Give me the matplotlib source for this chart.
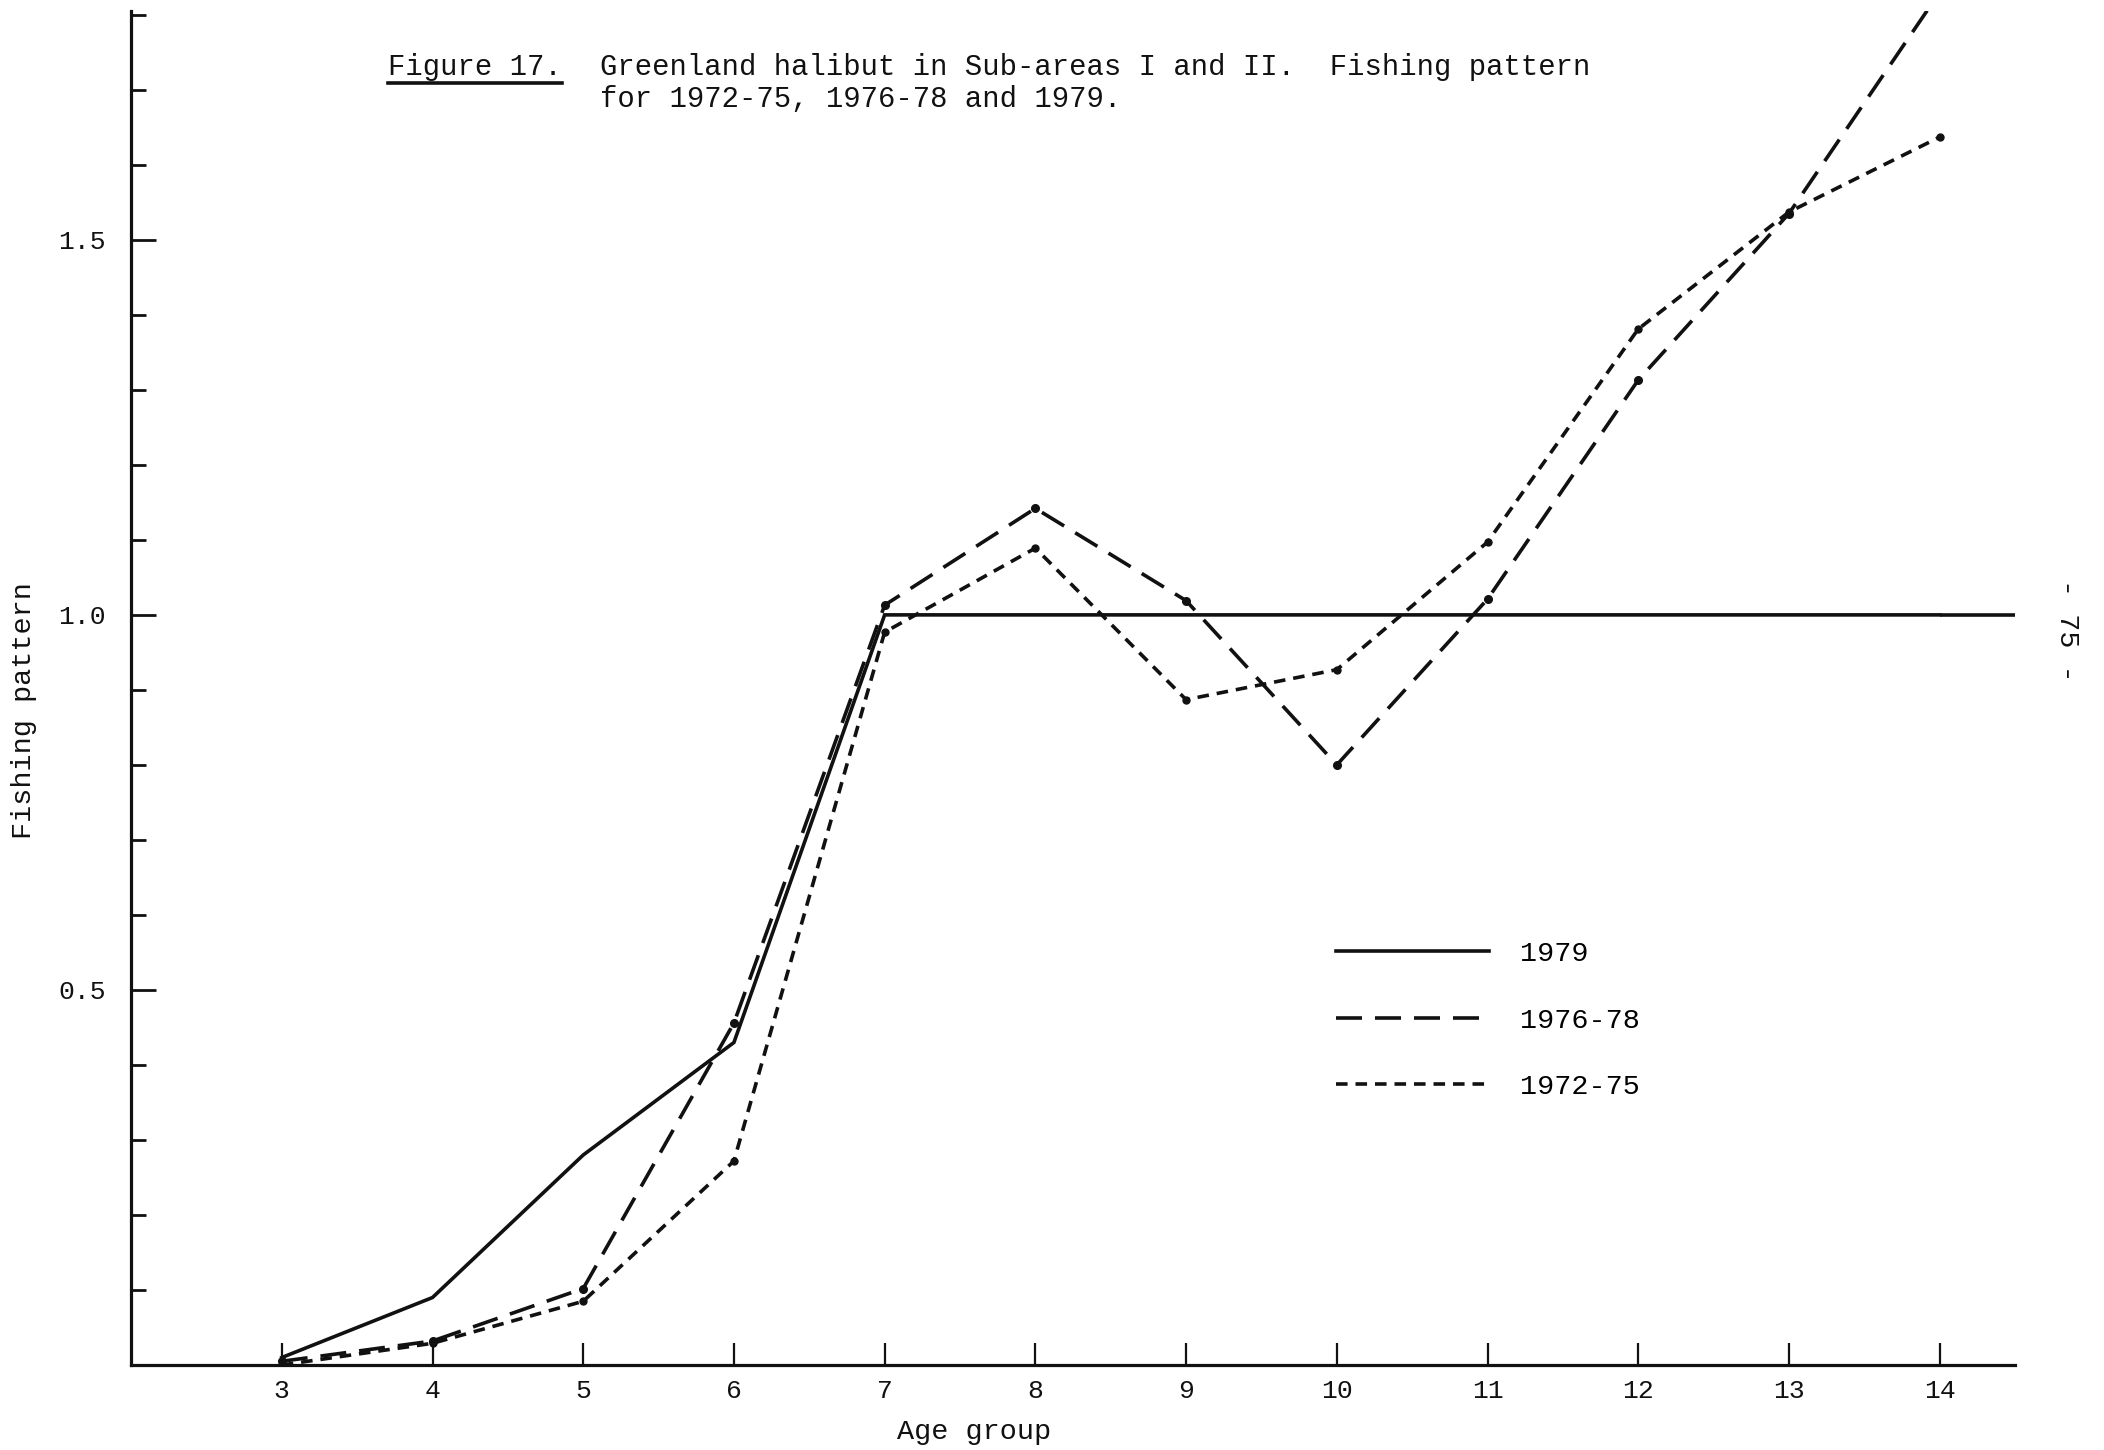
import matplotlib
matplotlib.use("Agg")
import matplotlib.pyplot as plt
from matplotlib.ticker import FixedLocator
from matplotlib.lines import Line2D

# === DADOS ===
ages = [3, 4, 5, 6, 7, 8, 9, 10, 11, 12, 13, 14]
fp_1979 = [0.01, 0.09, 0.28, 0.43, 1.0, 1.0, 1.0, 1.0, 1.0, 1.0, 1.0, 1.0]
fp_1976_78 = [0.005, 0.032, 0.102, 0.456, 1.013, 1.142, 1.019, 0.80, 1.021, 1.313, 1.535, 1.83]
fp_1972_75 = [0.0, 0.029, 0.085, 0.272, 0.977, 1.089, 0.887, 0.927, 1.097, 1.381, 1.537, 1.637]

series_labels = ["1979", "1976-78", "1972-75"]
y_labels = ["0.5", "1.0", "1.5"]

FONTE = ["Liberation Mono", "DejaVu Sans Mono"]
plt.rcParams["font.family"] = FONTE
COR = "#111111"

fig = plt.figure(figsize=(21.04, 14.5), dpi=100)
ax = fig.add_axes([0.0623, 0.0586, 0.8954, 0.9338])

ax.plot(ages, fp_1979, color=COR, lw=2.6, solid_joinstyle="miter", label=series_labels[0])
ax.hlines(fp_1979[-1], ages[-1], 14.5, color=COR, lw=2.6)
ax.plot(ages, fp_1976_78, color=COR, lw=2.6, dashes=(7.2, 3.6),
        marker="o", markersize=5.5, label=series_labels[1])
ax.plot(ages, fp_1972_75, color=COR, lw=2.6, dashes=(3.2, 2.2),
        marker="o", markersize=5.0, label=series_labels[2])

ax.set_xlim(2.0, 14.5)
ax.set_ylim(0, 1.805)

for lado in ["top", "right"]:
    ax.spines[lado].set_visible(False)
for lado in ["left", "bottom"]:
    ax.spines[lado].set_linewidth(2.3)
    ax.spines[lado].set_color(COR)

ax.xaxis.set_major_locator(FixedLocator(ages))
ax.tick_params(axis="x", direction="in", length=16, width=1.6, pad=10,
               labelsize=19, colors=COR)
ax.yaxis.set_major_locator(FixedLocator([0.5, 1.0, 1.5]))
ax.set_yticklabels(y_labels)
ax.yaxis.set_minor_locator(FixedLocator([0.1, 0.2, 0.3, 0.4, 0.6, 0.7, 0.8, 0.9,
                                         1.1, 1.2, 1.3, 1.4, 1.6, 1.7, 1.8]))
ax.tick_params(axis="y", which="major", direction="in", length=18, width=2.0,
               pad=18, labelsize=19, colors=COR)
ax.tick_params(axis="y", which="minor", direction="in", length=11, width=2.0, colors=COR)

# === TEXTOS ===
fig.text(974 / 2104, 1 - 1432 / 1450, "Age group", ha="center", va="center",
         fontsize=20.5, color=COR)
fig.text(24 / 2104, 1 - 711 / 1450, "Fishing pattern", ha="center", va="center",
         rotation=90, fontsize=20.5, color=COR)
fig.text(2067 / 2104, 1 - 630 / 1450, "- 75 -", ha="center", va="center",
         rotation=-90, fontsize=20.5, color=COR)

t1 = fig.text(388 / 2104, 1 - 75 / 1450, "Figure 17.", ha="left", va="baseline",
              fontsize=20.8, color=COR)
fig.text(600 / 2104, 1 - 75 / 1450,
         "Greenland halibut in Sub-areas I and II.  Fishing pattern",
         ha="left", va="baseline", fontsize=20.8, color=COR)
fig.text(600 / 2104, 1 - 107 / 1450, "for 1972-75, 1976-78 and 1979.",
         ha="left", va="baseline", fontsize=20.8, color=COR)

# sublinhado do "Figure 17."
fig.canvas.draw()
bb = t1.get_window_extent().transformed(fig.transFigure.inverted())
y_sub = 1 - 83 / 1450
fig.add_artist(Line2D([bb.x0, bb.x1], [y_sub, y_sub], transform=fig.transFigure,
                      color=COR, lw=2.6))

# === LEGENDA ===
leg = ax.legend(loc="upper left", frameon=False, fontsize=20.5, handlelength=5.35,
                handletextpad=1.1, labelspacing=1.42, borderaxespad=0,
                bbox_to_anchor=(1325 / 2104, 1 - 930 / 1450),
                bbox_transform=fig.transFigure)
for h in leg.legend_handles:
    h.set_marker("")

fig.savefig("out.png", dpi=100, facecolor="white")
